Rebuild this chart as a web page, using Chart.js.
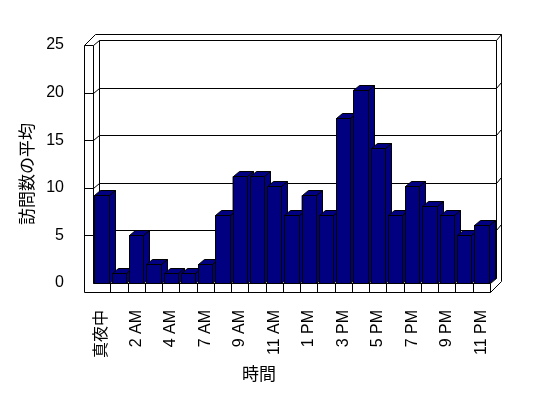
<!DOCTYPE html>
<html>
<head>
<meta charset="utf-8">
<script src="https://cdn.jsdelivr.net/npm/chart.js@4"></script>
<style>
    body { margin: 0; background: #fff; }
</style>
</head>
<body>
<canvas id="visitChart" width="548" height="398"></canvas>
<script>
// hours of the day (one hour is missing in the source data)
const hours = ["真夜中", "1 AM", "2 AM", "3 AM", "4 AM", "5 AM", "7 AM", "8 AM", "9 AM", "10 AM", "11 AM", "正午",
    "1 PM", "2 PM", "3 PM", "4 PM", "5 PM", "6 PM", "7 PM", "8 PM", "9 PM", "10 PM", "11 PM"];
const visits = [9.2, 1, 5, 2, 1, 1, 2, 7.1, 11.2, 11.2, 10.2, 7.1, 9.2, 7.1, 17.3, 20.3, 14.2, 7.1, 10.2, 8.1, 7.1, 5, 6.1];
const yTicks = [0, 5, 10, 15, 20, 25];
const yTitle = "訪問数の平均";
const xTitle = "時間";

const FONT = '"Liberation Sans", "Noto Sans CJK JP", sans-serif';
const NAVY = "#000080";
const DX = 6, DY = -5;        // depth of the box
const WALL = 9;               // thickness of left wall and floor
const RIM_X = 5, RIM_Y = -6;  // thickness of back wall

function px(v) {
    return Math.round(v) + 0.5;
}

function line(ctx, x1, y1, x2, y2) {
    ctx.beginPath();
    ctx.moveTo(px(x1), px(y1));
    ctx.lineTo(px(x2), px(y2));
    ctx.stroke();
}

function poly(ctx, pts) {
    ctx.beginPath();
    pts.forEach((p, i) => i ? ctx.lineTo(px(p[0]), px(p[1])) : ctx.moveTo(px(p[0]), px(p[1])));
    ctx.closePath();
    ctx.fill();
    ctx.stroke();
}

const box3d = {
    id: "box3d",
    beforeDatasetsDraw(chart) {
        const ctx = chart.ctx;
        const a = chart.chartArea;
        const L = a.left, R = a.right, T = a.top, B = a.bottom;
        const yScale = chart.scales.y;
        const xScale = chart.scales.x;
        ctx.save();
        ctx.strokeStyle = "#000";
        ctx.lineWidth = 1;

        // front faces of left wall and floor
        line(ctx, L - WALL, T, L - WALL, B + WALL);
        line(ctx, L - WALL, B + WALL, R, B + WALL);
        line(ctx, R, B, R, B + WALL);
        line(ctx, L, T, L, B);
        line(ctx, L, B, R, B);
        line(ctx, L - WALL, T, L, T);

        // top of left wall, back wall rim
        line(ctx, L - WALL, T, L - WALL + DX + RIM_X, T + DY + RIM_Y);
        line(ctx, L, T, L + DX, T + DY);
        line(ctx, L - WALL + DX + RIM_X, T + DY + RIM_Y, R + DX + RIM_X, T + DY + RIM_Y);
        line(ctx, R + DX, T + DY, R + DX + RIM_X, T + DY + RIM_Y);
        line(ctx, R + DX + RIM_X, T + DY + RIM_Y, R + DX + RIM_X, B + WALL + DY + RIM_Y);

        // back wall
        line(ctx, L + DX, T + DY, R + DX, T + DY);
        line(ctx, L + DX, T + DY, L + DX, B + DY);
        line(ctx, R + DX, T + DY, R + DX, B + DY);
        line(ctx, L + DX, B + DY, R + DX, B + DY);
        line(ctx, L, B, L + DX, B + DY);

        // right side of floor
        line(ctx, R, B, R + DX, B + DY);
        line(ctx, R, B + WALL, R + DX + RIM_X, B + WALL + DY + RIM_Y);

        // gridlines
        yTicks.forEach(v => {
            if (v === 0 || v === yTicks[yTicks.length - 1]) return;
            const py = yScale.getPixelForValue(v);
            line(ctx, L - WALL, py, L, py);
            line(ctx, L, py, L + DX, py + DY);
            line(ctx, L + DX, py + DY, R + DX, py + DY);
            line(ctx, R + DX, py + DY, R + DX + RIM_X, py + DY + RIM_Y);
        });

        // category cells on the floor edge
        for (let i = 1; i < hours.length; i++) {
            const bx = (xScale.getPixelForValue(i - 1) + xScale.getPixelForValue(i)) / 2;
            line(ctx, bx, B, bx, B + WALL);
        }
        ctx.restore();
    },
    afterDatasetsDraw(chart) {
        const ctx = chart.ctx;
        const meta = chart.getDatasetMeta(0);
        ctx.save();
        ctx.fillStyle = NAVY;
        ctx.strokeStyle = "#000";
        ctx.lineWidth = 1;
        meta.data.forEach(bar => {
            const p = bar.getProps(["x", "y", "base", "width"], true);
            const l = p.x - p.width / 2, r = p.x + p.width / 2;
            poly(ctx, [[r, p.y], [r + DX, p.y + DY], [r + DX, p.base + DY], [r, p.base]]);
            poly(ctx, [[l, p.y], [r, p.y], [r + DX, p.y + DY], [l + DX, p.y + DY]]);
            poly(ctx, [[l, p.y], [r, p.y], [r, p.base], [l, p.base]]);
        });
        ctx.restore();
    },
    afterDraw(chart) {
        const ctx = chart.ctx;
        const a = chart.chartArea;
        ctx.save();
        ctx.fillStyle = "#000";
        ctx.font = "17px " + FONT;
        ctx.textAlign = "center";
        ctx.textBaseline = "middle";
        ctx.fillText(xTitle, a.left + 166, a.bottom + 92);
        ctx.translate(28, (a.top + a.bottom) / 2 + 10);
        ctx.rotate(-Math.PI / 2);
        ctx.fillText(yTitle, 0, 0);
        ctx.restore();
    }
};

new Chart(document.getElementById("visitChart"), {
    type: "bar",
    data: {
        labels: hours,
        datasets: [{
            data: visits,
            backgroundColor: NAVY,
            borderWidth: 0,
            barPercentage: 0.83,
            categoryPercentage: 1
        }]
    },
    options: {
        responsive: false,
        animation: false,
        layout: { padding: { top: 45, right: 58, left: 0, bottom: 0 } },
        plugins: {
            legend: { display: false },
            tooltip: { enabled: false }
        },
        scales: {
            x: {
                grid: { display: false },
                border: { display: false },
                ticks: {
                    autoSkip: false,
                    minRotation: 90,
                    maxRotation: 90,
                    padding: 19,
                    color: "#000",
                    font: { family: FONT, size: 16 },
                    callback: (val, i) => i % 2 === 0 ? hours[i] : ""
                },
                afterFit: scale => { scale.height = 115; }
            },
            y: {
                min: 0,
                max: 25,
                grid: { display: false },
                border: { display: false },
                ticks: {
                    stepSize: 5,
                    padding: 21,
                    color: "#000",
                    font: { family: FONT, size: 16 }
                },
                afterFit: scale => { scale.width = 93; }
            }
        }
    },
    plugins: [box3d]
});
</script>
</body>
</html>
